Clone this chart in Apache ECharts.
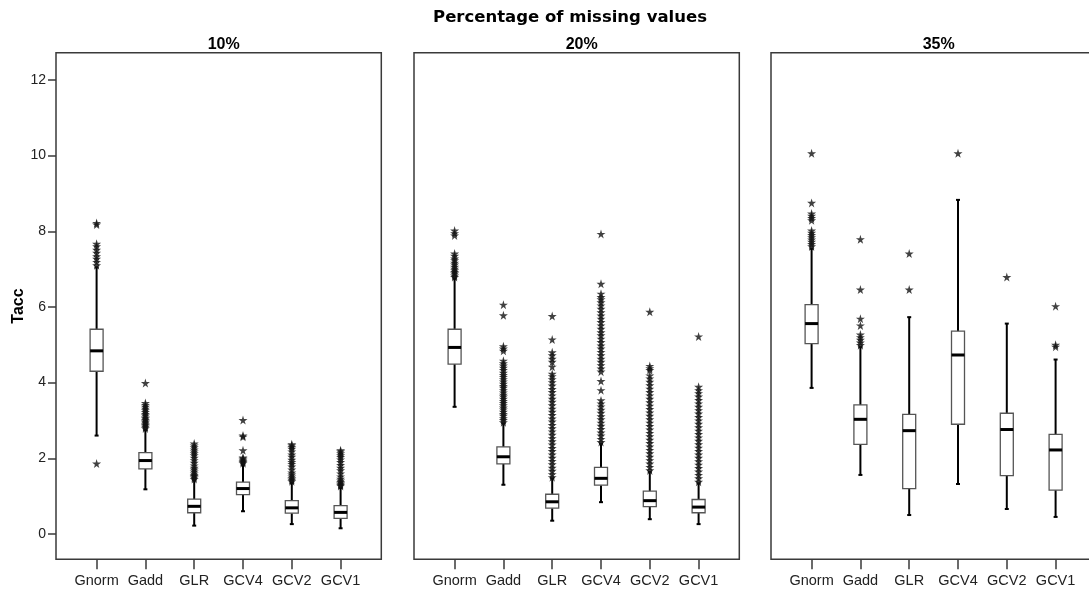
<!DOCTYPE html>
<html>
<head>
<meta charset="utf-8">
<script src="https://cdn.jsdelivr.net/npm/echarts@6/dist/echarts.min.js"></script>
<style>
    html, body { margin: 0; padding: 0; background: #fff; }
    #chart { width: 1089px; height: 592px; }
</style>
</head>
<body>
<div id="chart"></div>
<script>
const categories = ['Gnorm', 'Gadd', 'GLR', 'GCV4', 'GCV2', 'GCV1'];
const panelNames = ['10%', '20%', '35%'];
const yTicks = [0, 2, 4, 6, 8, 10, 12];

// [lower whisker, Q1, median, Q3, upper whisker]
const box10 = [
    [2.60, 4.30, 4.84, 5.41, 7.05],
    [1.18, 1.72, 1.94, 2.15, 2.75],
    [0.22, 0.56, 0.73, 0.92, 1.42],
    [0.60, 1.04, 1.20, 1.37, 1.84],
    [0.26, 0.55, 0.69, 0.88, 1.35],
    [0.15, 0.41, 0.57, 0.75, 1.22]
];
const box20 = [
    [3.36, 4.49, 4.93, 5.41, 6.75],
    [1.30, 1.85, 2.04, 2.30, 2.92],
    [0.35, 0.68, 0.85, 1.05, 1.47],
    [0.84, 1.29, 1.47, 1.76, 2.39],
    [0.39, 0.72, 0.88, 1.13, 1.64],
    [0.26, 0.56, 0.71, 0.91, 1.34]
];
const box35 = [
    [3.86, 5.03, 5.56, 6.06, 7.54],
    [1.56, 2.37, 3.03, 3.41, 4.94],
    [0.50, 1.20, 2.73, 3.16, 5.73],
    [1.32, 2.90, 4.73, 5.36, 8.83],
    [0.66, 1.54, 2.76, 3.19, 5.56],
    [0.45, 1.16, 2.22, 2.63, 4.61]
];

const outliers10 = [
    [1.86, 7.10, 7.19, 7.27, 7.34, 7.43, 7.51, 7.60, 7.67, 8.18, 8.22],
    [2.79, 2.83, 2.87, 2.90, 2.94, 2.97, 3.01, 3.05, 3.08, 3.13, 3.17, 3.22, 3.27, 3.31, 3.36, 3.41, 3.46, 3.99],
    [1.45, 1.49, 1.53, 1.56, 1.60, 1.65, 1.70, 1.75, 1.81, 1.88, 1.95, 2.01, 2.08, 2.13, 2.18, 2.23, 2.29, 2.34, 2.39],
    [1.87, 1.90, 1.93, 1.96, 1.99, 2.02, 2.21, 2.57, 2.60, 3.01],
    [1.39, 1.43, 1.47, 1.52, 1.57, 1.62, 1.70, 1.78, 1.85, 1.90, 1.96, 2.04, 2.10, 2.18, 2.25, 2.30, 2.34, 2.37],
    [1.27, 1.30, 1.33, 1.37, 1.41, 1.46, 1.52, 1.60, 1.68, 1.75, 1.82, 1.90, 1.97, 2.03, 2.08, 2.13, 2.18, 2.21]
];
const outliers20 = [
    [6.79, 6.83, 6.88, 6.92, 6.97, 7.01, 7.06, 7.12, 7.17, 7.23, 7.28, 7.35, 7.41, 7.89, 7.95, 8.02],
    [2.95, 3.01, 3.06, 3.12, 3.17, 3.23, 3.29, 3.34, 3.40, 3.46, 3.51, 3.57, 3.63, 3.68, 3.74, 3.80, 3.86, 3.91,
     3.97, 4.03, 4.09, 4.15, 4.20, 4.26, 4.33, 4.39, 4.45, 4.51, 4.58, 4.84, 4.90, 4.96, 5.78, 6.06],
    [1.50, 1.58, 1.67, 1.75, 1.84, 1.93, 2.01, 2.10, 2.19, 2.27, 2.36, 2.45, 2.53, 2.62, 2.71, 2.79, 2.88, 2.97,
     3.05, 3.14, 3.23, 3.31, 3.40, 3.49, 3.57, 3.66, 3.75, 3.83, 3.92, 4.01, 4.09, 4.17, 4.23, 4.42, 4.55, 4.63,
     4.72, 4.80, 5.14, 5.76],
    [2.43, 2.51, 2.60, 2.68, 2.77, 2.86, 2.94, 3.03, 3.11, 3.20, 3.28, 3.37, 3.45, 3.53, 3.80, 4.04, 4.29, 4.37,
     4.46, 4.55, 4.63, 4.72, 4.81, 4.90, 4.98, 5.07, 5.16, 5.25, 5.33, 5.42, 5.51, 5.60, 5.69, 5.77, 5.86, 5.95,
     6.04, 6.12, 6.20, 6.26, 6.35, 6.61, 7.93],
    [1.68, 1.77, 1.86, 1.95, 2.04, 2.13, 2.22, 2.31, 2.40, 2.49, 2.58, 2.67, 2.76, 2.85, 2.94, 3.03, 3.12, 3.21,
     3.30, 3.39, 3.48, 3.57, 3.66, 3.75, 3.84, 3.93, 4.02, 4.11, 4.19, 4.33, 4.38, 4.44, 5.87],
    [1.38, 1.47, 1.56, 1.65, 1.74, 1.83, 1.92, 2.01, 2.10, 2.19, 2.28, 2.37, 2.46, 2.55, 2.64, 2.73, 2.82, 2.91,
     3.00, 3.09, 3.18, 3.27, 3.36, 3.45, 3.54, 3.63, 3.72, 3.80, 3.89, 5.22]
];
const outliers35 = [
    [7.60, 7.66, 7.72, 7.78, 7.84, 7.90, 7.96, 8.02, 8.29, 8.35, 8.41, 8.47, 8.75, 10.06],
    [4.99, 5.06, 5.13, 5.20, 5.27, 5.51, 5.69, 6.46, 7.79],
    [6.46, 7.41],
    [10.06],
    [6.79],
    [4.95, 5.00, 6.02]
];

const boxes = [box10, box20, box35];
const outliers = [outliers10, outliers20, outliers35];

const chart = echarts.init(document.getElementById('chart'));

const font = 'Liberation Sans, Arial, sans-serif';
const yMin = -0.67, yMax = 12.72;
const frameLeft = [56, 414, 771];
const frameW = 325.3, gridTop = 52.7, gridH = 506.6;
const inset = 16.2, bandW = 48.8;
const star = 'path://M50,0 L61,35 L98,35 L68,57 L79,91 L50,70 L21,91 L32,57 L2,35 L39,35 Z';

function renderBox(params, api) {
    const i = api.value(0);
    const lo = api.coord([i, api.value(1)]);
    const q1 = api.coord([i, api.value(2)]);
    const md = api.coord([i, api.value(3)]);
    const q3 = api.coord([i, api.value(4)]);
    const hi = api.coord([i, api.value(5)]);
    const x = lo[0], hw = 6.5;
    const black = { stroke: '#000', lineWidth: 2 };
    return {
        type: 'group',
        children: [
            { type: 'line', shape: { x1: x, y1: lo[1], x2: x, y2: q1[1] }, style: black },
            { type: 'line', shape: { x1: x, y1: q3[1], x2: x, y2: hi[1] }, style: black },
            { type: 'line', shape: { x1: x - 2, y1: lo[1], x2: x + 2, y2: lo[1] }, style: black },
            { type: 'line', shape: { x1: x - 2, y1: hi[1], x2: x + 2, y2: hi[1] }, style: black },
            { type: 'rect', shape: { x: x - hw, y: q3[1], width: hw * 2, height: q1[1] - q3[1] },
              style: { fill: '#fff', stroke: '#555', lineWidth: 1.3 } },
            { type: 'line', shape: { x1: x - hw, y1: md[1], x2: x + hw, y2: md[1] },
              style: { stroke: '#000', lineWidth: 3 } }
        ]
    };
}

const grid = [], xAxis = [], yAxis = [], series = [], title = [];

title.push({
    text: 'Percentage of missing values',
    left: 565, top: 4, textAlign: 'center',
    textStyle: { fontFamily: 'DejaVu Sans', fontWeight: 'bold', fontSize: 16.5, color: '#000' }
});

// outer frames (box border + y axis on the first one)
for (let p = 0; p < 3; p++) {
    grid.push({ left: frameLeft[p], top: gridTop, width: frameW, height: gridH, outerBoundsMode: 'none',
        show: true, borderColor: '#3a3a3a', borderWidth: 1.5, backgroundColor: 'transparent' });
    xAxis.push({ type: 'category', gridIndex: p, show: false, data: categories });
    yAxis.push({
        type: 'value', gridIndex: p, min: yMin, max: yMax, show: p === 0,
        name: 'Tacc', nameLocation: 'middle', nameGap: 29,
        nameTextStyle: { fontFamily: font, fontWeight: 'bold', fontSize: 16, color: '#000' },
        splitLine: { show: false },
        axisLine: { show: false },
        axisTick: { show: true, length: 8, customValues: yTicks, lineStyle: { color: '#3a3a3a', width: 1.5 } },
        axisLabel: { customValues: yTicks, margin: 10, fontFamily: font, fontSize: 14, color: '#222' }
    });
    title.push({
        text: panelNames[p], left: frameLeft[p] + frameW / 2, top: 32, textAlign: 'center',
        textStyle: { fontFamily: font, fontWeight: 'bold', fontSize: 16, color: '#000' }
    });
}

// inner plotting grids
for (let p = 0; p < 3; p++) {
    const g = 3 + p;
    grid.push({ left: frameLeft[p] + inset, top: gridTop, width: bandW * 6, height: gridH, outerBoundsMode: 'none' });
    xAxis.push({
        type: 'category', gridIndex: g, data: categories,
        axisLine: { show: false, onZero: false },
        axisTick: { show: true, interval: 0, alignWithLabel: true, length: 10,
                    lineStyle: { color: '#3a3a3a', width: 1.5 } },
        axisLabel: { interval: 0, margin: 14, fontFamily: font, fontSize: 14.5, color: '#222' }
    });
    yAxis.push({ type: 'value', gridIndex: g, min: yMin, max: yMax, show: false, splitLine: { show: false } });

    series.push({
        type: 'custom', xAxisIndex: g, yAxisIndex: g,
        renderItem: renderBox,
        encode: { x: 0, y: [1, 2, 3, 4, 5] },
        data: boxes[p].map((b, i) => [i].concat(b))
    });
    series.push({
        type: 'scatter', xAxisIndex: g, yAxisIndex: g,
        symbol: star, symbolSize: 9,
        itemStyle: { color: '#111' },
        data: outliers[p].flatMap((vals, i) => vals.map(v => [i, v]))
    });
}

const option = {
    animation: false,
    backgroundColor: '#fff',
    title: title,
    grid: grid,
    xAxis: xAxis,
    yAxis: yAxis,
    series: series
};

chart.setOption(option);

window.addEventListener('resize', function () {
    chart.resize();
});
</script>
</body>
</html>
